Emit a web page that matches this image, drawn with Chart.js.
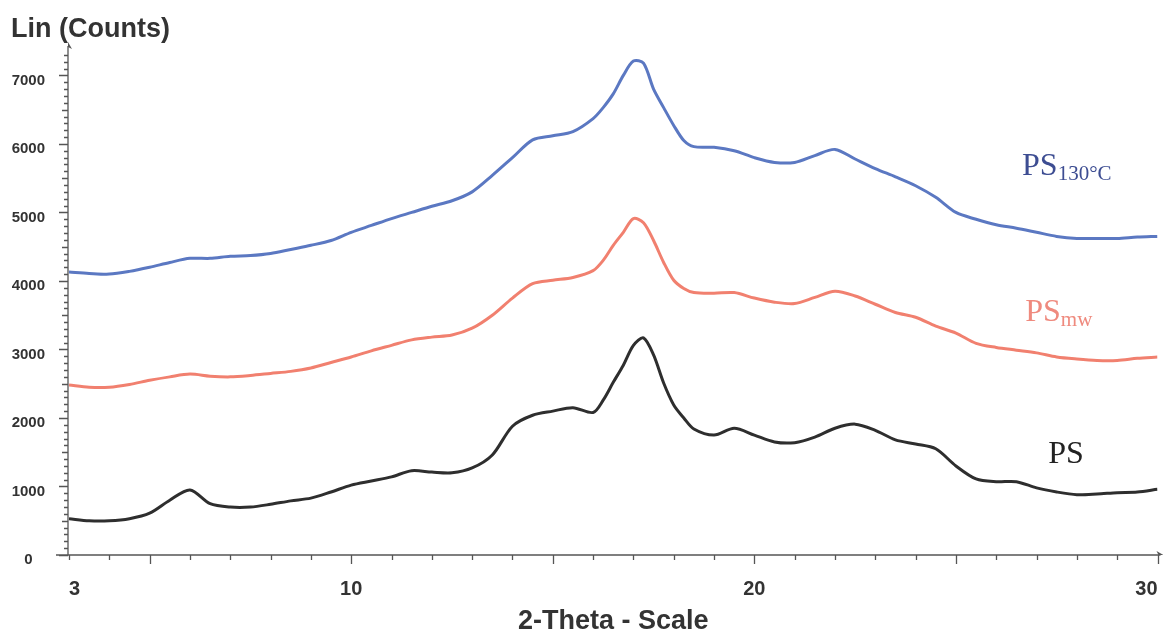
<!DOCTYPE html>
<html>
<head>
<meta charset="utf-8">
<script src="https://cdn.jsdelivr.net/npm/chart.js@4.4.1/dist/chart.umd.min.js"></script>
<style>
  html, body { margin: 0; padding: 0; background: #fff; }
  #wrap { width: 1163px; height: 635px; }
</style>
</head>
<body>
<div id="wrap"><canvas id="xrd" width="1163" height="635"></canvas></div>
<script>
const twoTheta = [3, 3.5, 4, 4.5, 5, 5.5, 6, 6.5, 7, 7.5, 8, 8.5, 9, 9.5, 10, 10.5, 11, 11.5, 12, 12.5,
  13, 13.5, 14, 14.5, 15, 15.5, 16, 16.25, 16.5, 16.75, 17, 17.25, 17.5, 17.75, 18, 18.25, 18.5,
  19, 19.5, 20, 20.5, 21, 21.5, 22, 22.5, 23, 23.5, 24, 24.5, 25, 25.5, 26, 26.5, 27, 27.5, 28, 28.5, 29, 29.5, 30];

// Lin (Counts)
const countsPS130 = [4130, 4110, 4100, 4140, 4200, 4270, 4330, 4330, 4360, 4370, 4400, 4460, 4520, 4590, 4710, 4810, 4910, 5000, 5090, 5170,
  5300, 5540, 5800, 6060, 6120, 6180, 6370, 6530, 6730, 7000, 7210, 7180, 6800, 6530, 6270, 6050, 5960,
  5950, 5900, 5800, 5730, 5730, 5830, 5920, 5780, 5640, 5520, 5390, 5220, 5000, 4900, 4820, 4770, 4710, 4650, 4620, 4620, 4620, 4640, 4650];
const countsPSmw = [2480, 2450, 2450, 2490, 2550, 2600, 2640, 2610, 2600, 2620, 2650, 2680, 2730, 2810, 2890, 2980, 3060, 3140, 3180, 3210,
  3310, 3500, 3750, 3960, 4010, 4050, 4150, 4300, 4520, 4710, 4910, 4850, 4590, 4270, 4010, 3890, 3830,
  3820, 3830, 3750, 3690, 3670, 3760, 3850, 3780, 3660, 3540, 3470, 3340, 3240, 3090, 3030, 2990, 2950, 2890, 2860, 2840, 2840, 2870, 2890];
const countsPS = [530, 500, 500, 530, 610, 800, 950, 750, 700, 700, 740, 790, 830, 920, 1020, 1080, 1140, 1230, 1210, 1200,
  1270, 1460, 1880, 2040, 2100, 2150, 2080, 2260, 2520, 2770, 3060, 3170, 2920, 2510, 2190, 2000, 1840,
  1750, 1850, 1750, 1650, 1640, 1720, 1850, 1910, 1820, 1680, 1620, 1550, 1300, 1110, 1070, 1070, 980, 920, 880, 890, 910, 920, 960];

const xLabelTicks = [3, 10, 20, 30];
const yLabelTicks = [0, 1000, 2000, 3000, 4000, 5000, 6000, 7000];

const xMin = 3, xMax = 30, yMin = 0, yMax = 7400;
const axisColor = '#555';
const textColor = '#333';

function pts(ys) {
  return twoTheta.map((t, i) => ({ x: t, y: ys[i] }));
}

// curve labels, placed in data coordinates
const curveLabels = [
  { main: 'PS', sub: '130°C', x: 26.64, y: 5540, color: '#3d4d92' },
  { main: 'PS', sub: 'mw', x: 26.72, y: 3410, color: '#ef8a7e' },
  { main: 'PS', sub: '', x: 27.29, y: 1340, color: '#222' }
];

const axisDeco = {
  id: 'axisDeco',
  beforeDatasetsDraw(chart) {
    const ctx = chart.ctx;
    const xs = chart.scales.x, ys = chart.scales.y;
    const left = xs.getPixelForValue(xMin);
    const right = xs.getPixelForValue(xMax);
    const base = ys.getPixelForValue(0);
    const top = ys.getPixelForValue(yMax);
    ctx.save();
    ctx.strokeStyle = axisColor;
    ctx.fillStyle = axisColor;
    ctx.lineWidth = 1.3;
    ctx.beginPath();
    ctx.moveTo(left - 13, base);
    ctx.lineTo(right + 3, base);
    ctx.moveTo(left - 1, base);
    ctx.lineTo(left - 1, top - 2);
    // x ticks
    for (let v = xMin; v <= xMax; v++) {
      const px = Math.round(xs.getPixelForValue(v)) + 0.5;
      const len = v % 5 === 0 ? 9 : 5;
      ctx.moveTo(px, base);
      ctx.lineTo(px, base + len);
    }
    // y ticks
    for (let v = 0; v <= 7300; v += 100) {
      const py = Math.round(ys.getPixelForValue(v)) + 0.5;
      const len = v % 1000 === 0 ? 9 : (v % 500 === 0 ? 6 : 4);
      ctx.moveTo(left - 1, py);
      ctx.lineTo(left - 1 - len, py);
    }
    ctx.stroke();
    // arrow heads
    ctx.beginPath();
    ctx.moveTo(left - 1, top - 6);
    ctx.lineTo(left + 3, top + 1);
    ctx.lineTo(left - 1, top - 1);
    ctx.closePath();
    ctx.fill();
    ctx.beginPath();
    ctx.moveTo(right + 6, base);
    ctx.lineTo(right - 1, base - 4);
    ctx.lineTo(right + 1, base);
    ctx.closePath();
    ctx.fill();

    ctx.fillStyle = textColor;
    ctx.font = 'bold 27px "Liberation Sans", Arial, sans-serif';
    ctx.textBaseline = 'alphabetic';
    ctx.textAlign = 'left';
    ctx.fillText('Lin (Counts)', 11, 37);
    ctx.restore();
  },
  afterDatasetsDraw(chart) {
    const ctx = chart.ctx;
    const xs = chart.scales.x, ys = chart.scales.y;
    ctx.save();
    ctx.textBaseline = 'alphabetic';
    ctx.textAlign = 'left';
    curveLabels.forEach(l => {
      const px = xs.getPixelForValue(l.x);
      const py = ys.getPixelForValue(l.y);
      ctx.fillStyle = l.color;
      ctx.font = '32px "Liberation Serif", "Times New Roman", serif';
      ctx.fillText(l.main, px, py);
      const w = ctx.measureText(l.main).width;
      if (l.sub) {
        ctx.font = '21px "Liberation Serif", "Times New Roman", serif';
        ctx.fillText(l.sub, px + w, py + 5);
      }
    });
    ctx.restore();
  }
};

const ctx = document.getElementById('xrd').getContext('2d');
new Chart(ctx, {
  type: 'line',
  data: {
    datasets: [
      { label: 'PS130°C', data: pts(countsPS130), borderColor: '#5b78c2', borderWidth: 3 },
      { label: 'PSmw', data: pts(countsPSmw), borderColor: '#f1806f', borderWidth: 3 },
      { label: 'PS', data: pts(countsPS), borderColor: '#2e2e2e', borderWidth: 3 }
    ]
  },
  options: {
    responsive: false,
    animation: false,
    layout: { padding: { top: 48, right: 5.5, left: 0, bottom: 0 } },
    elements: {
      point: { radius: 0 },
      line: { tension: 0.3, fill: false }
    },
    plugins: {
      legend: { display: false },
      tooltip: { enabled: false }
    },
    scales: {
      x: {
        type: 'linear',
        min: xMin,
        max: xMax,
        grid: { display: false, drawTicks: false },
        border: { display: false },
        afterBuildTicks: s => { s.ticks = xLabelTicks.map(v => ({ value: v })); },
        afterFit: s => { s.height = 80; s.paddingLeft = 0; s.paddingRight = 0; },
        ticks: {
          align: 'inner',
          padding: 22,
          color: textColor,
          callback: v => String(v),
          font: { family: '"Liberation Sans", Arial, sans-serif', size: 20, weight: 'bold' }
        },
        title: {
          display: true,
          text: '2-Theta - Scale',
          color: textColor,
          padding: 0,
          font: { family: '"Liberation Sans", Arial, sans-serif', size: 27, weight: 'bold', lineHeight: 1.0 }
        }
      },
      y: {
        min: yMin,
        max: yMax,
        grid: { display: false, drawTicks: false },
        border: { display: false },
        afterBuildTicks: s => { s.ticks = yLabelTicks.map(v => ({ value: v })); },
        afterFit: s => { s.width = 69; s.paddingTop = 0; s.paddingBottom = 0; },
        ticks: {
          crossAlign: 'center',
          padding: 24,
          labelOffset: 5,
          color: textColor,
          callback: v => String(v),
          font: { family: '"Liberation Sans", Arial, sans-serif', size: 15, weight: 'bold' }
        }
      }
    }
  },
  plugins: [axisDeco]
});
</script>
</body>
</html>
